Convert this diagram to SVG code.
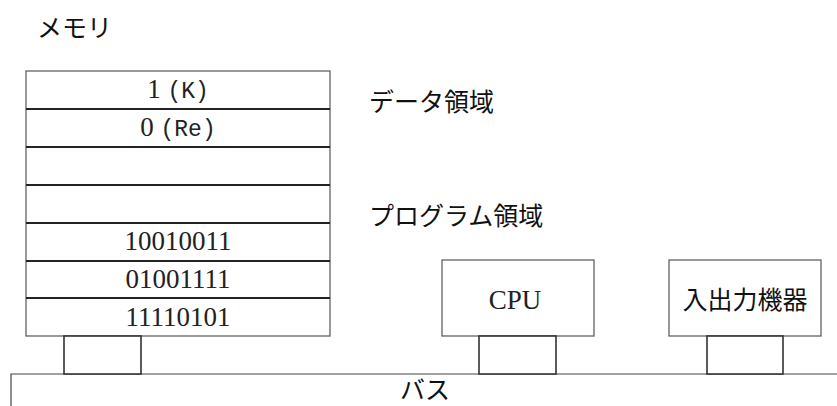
<svg xmlns="http://www.w3.org/2000/svg" width="837" height="406" viewBox="0 0 837 406">
<style>
.box{fill:#fff;stroke:#555;stroke-width:1.2}
.port{fill:#fff;stroke:#333;stroke-width:1.6}
.div{stroke:#222;stroke-width:1.8}
.bus{fill:none;stroke:#444;stroke-width:1.2}
.jp{font-family:"Noto Sans CJK JP","Noto Sans",sans-serif;font-size:25px;fill:#111}
.cell{font-family:"Liberation Serif",serif;font-size:27px;fill:#222;text-anchor:middle}
.mono{font-family:"Liberation Mono",monospace;font-size:23px}
</style>
<g id="labels">
<text class="jp" x="37" y="37">メモリ</text>
<text class="jp" x="369" y="111">データ領域</text>
<text class="jp" x="369" y="225">プログラム領域</text>
</g>
<g id="memory">
<rect class="box" x="26" y="71" width="304" height="265"/>
<line class="div" x1="26" y1="109" x2="330" y2="109"/>
<line class="div" x1="26" y1="147" x2="330" y2="147"/>
<line class="div" x1="26" y1="185" x2="330" y2="185"/>
<line class="div" x1="26" y1="223" x2="330" y2="223"/>
<line class="div" x1="26" y1="261" x2="330" y2="261"/>
<line class="div" x1="26" y1="298" x2="330" y2="298"/>
<text class="cell" x="178" y="98">1 <tspan class="mono">(K)</tspan></text>
<text class="cell" x="178" y="136">0 <tspan class="mono">(Re)</tspan></text>
<text class="cell" x="178" y="250">10010011</text>
<text class="cell" x="178" y="288">01001111</text>
<text class="cell" x="178" y="326">11110101</text>
</g>
<g id="cpu">
<rect class="box" x="442" y="260" width="152" height="76"/>
<text class="cell" x="515" y="309">CPU</text>
</g>
<g id="io">
<rect class="box" x="669" y="260" width="152" height="76"/>
<text class="jp" x="745" y="309" text-anchor="middle">入出力機器</text>
</g>
<g id="connectors">
<path class="bus" d="M11,406 V374 H837"/>
<rect class="port" x="64" y="336" width="77" height="38"/>
<rect class="port" x="479" y="336" width="77" height="38"/>
<rect class="port" x="707" y="336" width="76" height="38"/>
</g>
<g id="bus-label">
<text class="jp" x="425" y="399" text-anchor="middle">バス</text>
</g>
</svg>
